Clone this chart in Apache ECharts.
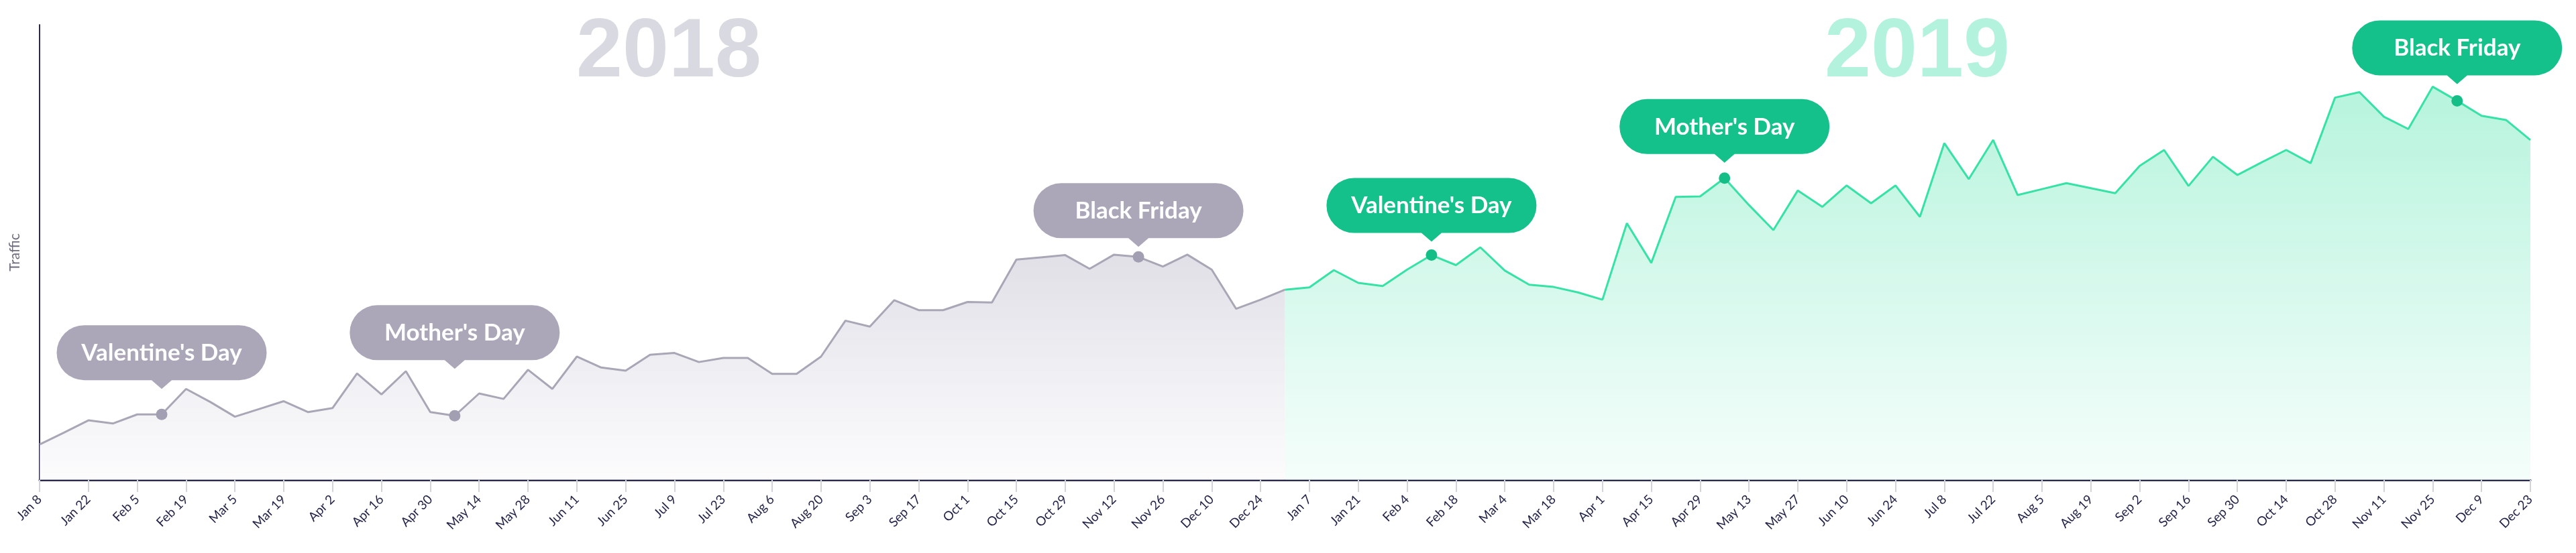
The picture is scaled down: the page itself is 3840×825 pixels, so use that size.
<!DOCTYPE html>
<html>
<head>
<meta charset="utf-8">
<title>Traffic 2018 - 2019</title>
<script src="https://cdn.jsdelivr.net/npm/echarts@6/dist/echarts.min.js"></script>
<style>
  html, body { margin: 0; padding: 0; background: #fff; }
  #main { width: 3840px; height: 825px; }
</style>
</head>
<body>
<div id="main"></div>
<script>
// weekly categories, Mondays from Jan 8 2018 to Dec 23 2019
var weeks = [
    'Jan 8', 'Jan 15', 'Jan 22', 'Jan 29', 'Feb 5', 'Feb 12', 'Feb 19', 'Feb 26',
    'Mar 5', 'Mar 12', 'Mar 19', 'Mar 26', 'Apr 2', 'Apr 9', 'Apr 16', 'Apr 23',
    'Apr 30', 'May 7', 'May 14', 'May 21', 'May 28', 'Jun 4', 'Jun 11', 'Jun 18',
    'Jun 25', 'Jul 2', 'Jul 9', 'Jul 16', 'Jul 23', 'Jul 30', 'Aug 6', 'Aug 13',
    'Aug 20', 'Aug 27', 'Sep 3', 'Sep 10', 'Sep 17', 'Sep 24', 'Oct 1', 'Oct 8',
    'Oct 15', 'Oct 22', 'Oct 29', 'Nov 5', 'Nov 12', 'Nov 19', 'Nov 26', 'Dec 3',
    'Dec 10', 'Dec 17', 'Dec 24', 'Dec 31',
    'Jan 7', 'Jan 14', 'Jan 21', 'Jan 28', 'Feb 4', 'Feb 11', 'Feb 18', 'Feb 25',
    'Mar 4', 'Mar 11', 'Mar 18', 'Mar 25', 'Apr 1', 'Apr 8', 'Apr 15', 'Apr 22',
    'Apr 29', 'May 6', 'May 13', 'May 20', 'May 27', 'Jun 3', 'Jun 10', 'Jun 17',
    'Jun 24', 'Jul 1', 'Jul 8', 'Jul 15', 'Jul 22', 'Jul 29', 'Aug 5', 'Aug 12',
    'Aug 19', 'Aug 26', 'Sep 2', 'Sep 9', 'Sep 16', 'Sep 23', 'Sep 30', 'Oct 7',
    'Oct 14', 'Oct 21', 'Oct 28', 'Nov 4', 'Nov 11', 'Nov 18', 'Nov 25', 'Dec 2',
    'Dec 9', 'Dec 16', 'Dec 23'
];

// traffic index, 2018 (Jan 8 .. Dec 31)
var traffic2018 = [
    7.8, 10.4, 13.1, 12.4, 14.4, 14.4, 20.0, 17.1, 13.9, 15.6,
    17.3, 14.9, 15.8, 23.4, 18.8, 23.9, 14.9, 14.1, 19.0, 17.8,
    24.2, 20.0, 27.1, 24.7, 24.0, 27.5, 27.9, 25.9, 26.8, 26.8,
    23.3, 23.3, 27.1, 35.0, 33.7, 39.5, 37.3, 37.3, 39.1, 39.0,
    48.4, 48.9, 49.4, 46.4, 49.5, 49.0, 46.9, 49.5, 46.2, 37.6,
    39.6, 41.8
];
// traffic index, 2019 (starts on Dec 31 so the two lines join)
var traffic2019 = [
    41.8, 42.3, 46.1, 43.3, 42.6, 46.2, 49.4, 47.2, 51.1, 46.0,
    42.9, 42.4, 41.2, 39.6, 56.4, 47.7, 62.2, 62.3, 66.3, 60.4,
    54.9, 63.6, 60.0, 64.7, 60.8, 64.7, 57.8, 74.0, 66.1, 74.7,
    62.6, 63.9, 65.2, 64.1, 63.0, 69.0, 72.5, 64.6, 71.0, 67.0,
    69.8, 72.5, 69.6, 84.0, 85.2, 79.8, 77.1, 86.4, 83.3, 80.0,
    79.1, 74.7
];
var start2019 = 51;

var eventNames = ["Valentine's Day", "Mother's Day", 'Black Friday'];
var events2018 = [5, 17, 45];   // week index
var events2019 = [57, 69, 99];

var years = ['2018', '2019'];

// gap between dot and bubble pointer, per event
var lift2018 = [38, 70, 15];
var lift2019 = [20, 23, 25];

var GRAY = '#a9a6b6', GRAY_DARK = '#a39fb2', GRAY_BUBBLE = '#aba7b9';
var GREEN = '#36e2a5', GREEN_DARK = '#15bd87', GREEN_BUBBLE = '#15c18b';

var bubblePath = 'path://M41,0 H272 A41,41 0 0 1 272,82 H171.5 L156.5,95 L141.5,82 H41 A41,41 0 0 1 41,0 Z';

function markers(idx, values, offset, lifts, dotColor, bubbleColor) {
    var out = [];
    for (var k = 0; k < idx.length; k++) {
        var v = values[idx[k] - offset];
        out.push({
            name: '',
            coord: [idx[k], v],
            symbol: 'circle',
            symbolSize: 17,
            itemStyle: { color: dotColor },
            label: { show: false }
        });
        out.push({
            name: eventNames[k],
            coord: [idx[k], v],
            symbol: bubblePath,
            symbolSize: [313, 95],
            symbolOffset: [0, -(lifts[k] + 47.5)],
            itemStyle: { color: bubbleColor },
            label: {
                show: true,
                formatter: '{b}',
                color: '#fff',
                fontSize: 35,
                fontWeight: 'bold',
                fontFamily: 'Lato, "Open Sans", sans-serif',
                offset: [0, -6]
            }
        });
    }
    return out;
}

var myChart = echarts.init(document.getElementById('main'));

var option = {
    animation: false,
    grid: { left: 59, right: 68, top: 37, bottom: 109 },
    graphic: [
        {
            type: 'text', x: 997, y: 80,
            style: {
                text: years[0], fill: '#d9d9e1',
                font: 'bold 124px "Liberation Sans", Arial, sans-serif',
                textAlign: 'center', textVerticalAlign: 'middle'
            }
        },
        {
            type: 'text', x: 2858, y: 80,
            style: {
                text: years[1], fill: '#b3f2dd',
                font: 'bold 124px "Liberation Sans", Arial, sans-serif',
                textAlign: 'center', textVerticalAlign: 'middle'
            }
        }
    ],
    xAxis: {
        type: 'category',
        boundaryGap: false,
        data: weeks,
        axisLine: { lineStyle: { color: '#2b2a4a', width: 3 } },
        axisTick: { show: true, interval: 1, length: 18, lineStyle: { color: '#d3d3db', width: 2 } },
        axisLabel: {
            interval: 1,
            rotate: 45,
            margin: 26,
            fontSize: 19,
            color: '#1f1f45',
            fontFamily: 'Lato, sans-serif'
        },
        splitLine: { show: false }
    },
    yAxis: {
        type: 'value',
        min: 0,
        max: 100,
        name: 'Traffic',
        nameLocation: 'middle',
        nameGap: 26,
        nameRotate: 90,
        nameTextStyle: { color: '#6e6c7c', fontSize: 21, fontFamily: 'Lato, sans-serif' },
        axisLine: { show: true, lineStyle: { color: '#2b2a4a', width: 2 } },
        axisTick: { show: false },
        axisLabel: { show: false },
        splitLine: { show: false }
    },
    series: [
        {
            name: '2018',
            type: 'line',
            data: traffic2018.map(function (v, i) { return [i, v]; }),
            showSymbol: false,
            lineStyle: { color: GRAY, width: 3 },
            areaStyle: {
                color: new echarts.graphic.LinearGradient(0, 0, 0, 1, [
                    { offset: 0, color: '#d4d2dd' },
                    { offset: 1, color: 'rgba(250,250,252,0.9)' }
                ])
            },
            markPoint: { data: markers(events2018, traffic2018, 0, lift2018, GRAY_DARK, GRAY_BUBBLE) },
            z: 2
        },
        {
            name: '2019',
            type: 'line',
            data: traffic2019.map(function (v, i) { return [i + start2019, v]; }),
            showSymbol: false,
            lineStyle: { color: GREEN, width: 3 },
            areaStyle: {
                color: new echarts.graphic.LinearGradient(0, 0, 0, 1, [
                    { offset: 0, color: '#97efcf' },
                    { offset: 1, color: 'rgba(240,253,248,0.95)' }
                ])
            },
            markPoint: { data: markers(events2019, traffic2019, start2019, lift2019, GREEN_DARK, GREEN_BUBBLE) },
            z: 3
        }
    ]
};

myChart.setOption(option);
</script>
</body>
</html>
